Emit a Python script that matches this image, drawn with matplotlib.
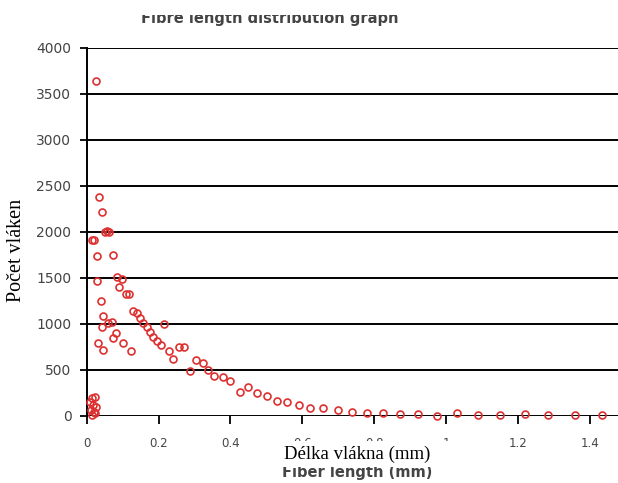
import matplotlib

matplotlib.use("Agg")
import matplotlib.pyplot as plt
from matplotlib.patches import Rectangle

# fibre length (mm) vs. number of fibres
fibre_length = [
    0.010, 0.012, 0.014, 0.016, 0.018, 0.020, 0.022, 0.024, 0.026,
    0.015, 0.020, 0.026, 0.028, 0.029, 0.032, 0.035, 0.040, 0.042,
    0.043, 0.046, 0.046, 0.050, 0.056, 0.062, 0.060, 0.070, 0.073,
    0.074, 0.082, 0.083, 0.089, 0.097, 0.102, 0.109, 0.118, 0.122,
    0.130, 0.139, 0.148, 0.157, 0.167, 0.176, 0.185, 0.195, 0.206,
    0.215, 0.229, 0.241, 0.257, 0.271, 0.287, 0.304, 0.323, 0.338,
    0.355, 0.378, 0.400, 0.426, 0.448, 0.473, 0.502, 0.529, 0.558,
    0.591, 0.622, 0.658, 0.700, 0.737, 0.779, 0.825, 0.871, 0.922,
    0.974, 1.029, 1.089, 1.150, 1.219, 1.284, 1.358, 1.433,
]
fibre_count = [
    150, 60, 190, 10, 120, 40, 200, 30, 100,
    1910, 1910, 3640, 1467, 1736, 794, 2374, 1250, 961,
    2211, 1084, 714, 2000, 2008, 2000, 1011, 1022, 1752,
    841, 896, 1504, 1402, 1483, 787, 1320, 1320, 707,
    1138, 1113, 1059, 1011, 967, 913, 852, 812, 768,
    997, 707, 613, 750, 750, 490, 605, 570, 497,
    432, 417, 380, 261, 309, 243, 214, 163, 146,
    116, 80, 80, 62, 43, 33, 33, 18, 18,
    0, 26, 8, 8, 18, 8, 8, 8,
]

y_ticks = list(range(0, 4001, 500))
x_ticks = [0, 0.2, 0.4, 0.6, 0.8, 1.0, 1.2, 1.4]
x_tick_labels = ["0", "0.2", "0.4", "0.6", "0.8", "1", "1.2", "1.4"]

W, H = 618, 483
fig = plt.figure(figsize=(W / 100, H / 100), dpi=100)
fig.patch.set_facecolor("white")
ax = fig.add_axes([86.7 / W, 67.3 / H, 1 - 86.7 / W, 368 / H])

ax.plot(fibre_length, fibre_count, linestyle="none", marker="o",
        markersize=5.0, markerfacecolor="none", markeredgecolor="#dd3030",
        markeredgewidth=1.2, clip_on=False, zorder=5)

ax.set_xlim(0, 1.478)
ax.set_ylim(0, 4000)
ax.set_yticks(y_ticks)
ax.set_xticks(x_ticks)
ax.set_xticklabels(x_tick_labels)
ax.yaxis.grid(True, color="black", linewidth=1.4)
ax.set_axisbelow(True)
for side in ("top", "right", "bottom"):
    ax.spines[side].set_visible(False)
ax.spines["left"].set_linewidth(1.4)
ax.tick_params(axis="both", direction="out", width=1.3, color="black",
               labelcolor="#444444")
ax.tick_params(axis="y", length=5, pad=6, labelsize=10)
ax.tick_params(axis="x", length=6, pad=9, labelsize=8.5)
for lbl in ax.get_xticklabels() + ax.get_yticklabels():
    lbl.set_family("DejaVu Sans")

# English labels; the title's upper half is masked off
fig.text(270 / W, 1 - 23 / H, "Fibre length distribution graph",
         ha="center", va="baseline", fontsize=10.5, fontweight="bold",
         family="DejaVu Sans", color="#444444")
fig.add_artist(Rectangle((0, 1 - 15 / H), 1, 15 / H,
                         transform=fig.transFigure, facecolor="white",
                         edgecolor="none", zorder=10))
fig.text(357 / W, 1 - 473 / H, "Fiber length (mm)", ha="center",
         va="center", fontsize=10.5, fontweight="bold",
         family="DejaVu Sans", color="#444444")

# white patch with Czech axis caption on top
fig.add_artist(Rectangle((275 / W, 1 - 467 / H), 180 / W, 26 / H,
                         transform=fig.transFigure, facecolor="white",
                         edgecolor="none", zorder=10))
fig.text(357 / W, 1 - 454 / H, "Délka vlákna (mm)", ha="center",
         va="center", fontsize=13.5, family="Liberation Serif",
         color="black", zorder=11)
fig.text(17 / W, 1 - 250 / H, "Počet vláken", ha="center", va="center",
         rotation=90, fontsize=14.5, family="Liberation Serif", color="black")

fig.savefig("out.png", dpi=100, facecolor="white")
